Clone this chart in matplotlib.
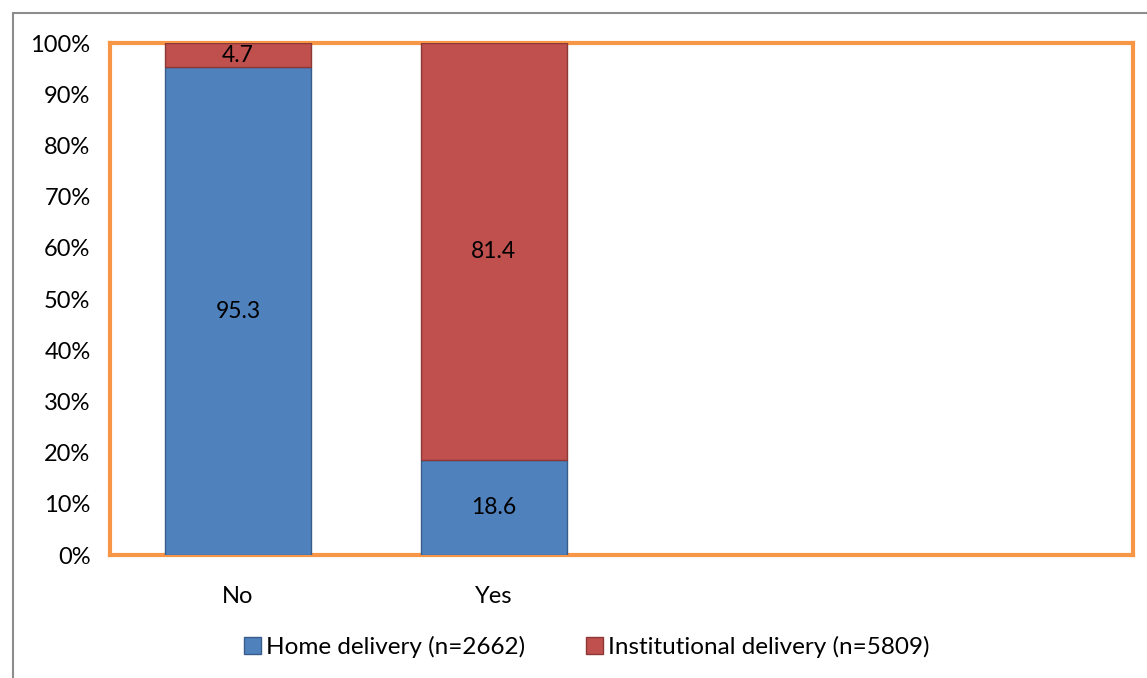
import numpy as np
import matplotlib.pyplot as plt
from matplotlib.patches import Rectangle

# Data (percent)
categories = ["No", "Yes"]
home = [95.3, 18.6]
institutional = [4.7, 81.4]
series_names = ["Home delivery (n=2662)", "Institutional delivery (n=5809)"]

plt.rcParams['font.family'] = ['Lato', 'DejaVu Sans']

fig = plt.figure(figsize=(11.47, 6.78), dpi=100)
ax = fig.add_axes([110 / 1147, 123 / 678, 1023 / 1147, 512 / 678])

# outer chart frame (gray, left and top visible)
fig.patches.append(Rectangle((13 / 1147, -0.05), 1.2, (678 - 13) / 678 + 0.05,
                             transform=fig.transFigure, fill=False,
                             edgecolor="#8c8c8c", linewidth=1.5))

x = np.arange(len(categories))
w = 0.57
b1 = ax.bar(x, home, w, color="#4F81BD", edgecolor="#385D8A", linewidth=1,
            label=series_names[0], zorder=3)
b2 = ax.bar(x, institutional, w, bottom=home, color="#C0504D", edgecolor="#8C3836",
            linewidth=1, label=series_names[1], zorder=3)
ax.bar_label(b1, labels=[f"{v:.1f}" for v in home], label_type="center", fontsize=16.5)
ax.bar_label(b2, labels=[f"{v:.1f}" for v in institutional], label_type="center", fontsize=16.5)

ax.set_xlim(-0.5, 3.5)
ax.set_ylim(0, 100)
ax.set_yticks(np.arange(0, 101, 10))
ax.set_yticklabels([f"{v}%" for v in range(0, 101, 10)], fontsize=17)
ax.set_xticks(x)
ax.set_xticklabels(categories, fontsize=17)
ax.tick_params(length=0, pad=14)
ax.tick_params(axis="x", pad=22)

for s in ax.spines.values():
    s.set_color("#F79646")
    s.set_linewidth(3)

ax.legend(loc="upper center", bbox_to_anchor=(0.466, -0.115), ncol=2, frameon=False,
          fontsize=17.5, handlelength=0.7, handleheight=0.7, handletextpad=0.2,
          columnspacing=2.5)

plt.savefig("out.png", dpi=100)
